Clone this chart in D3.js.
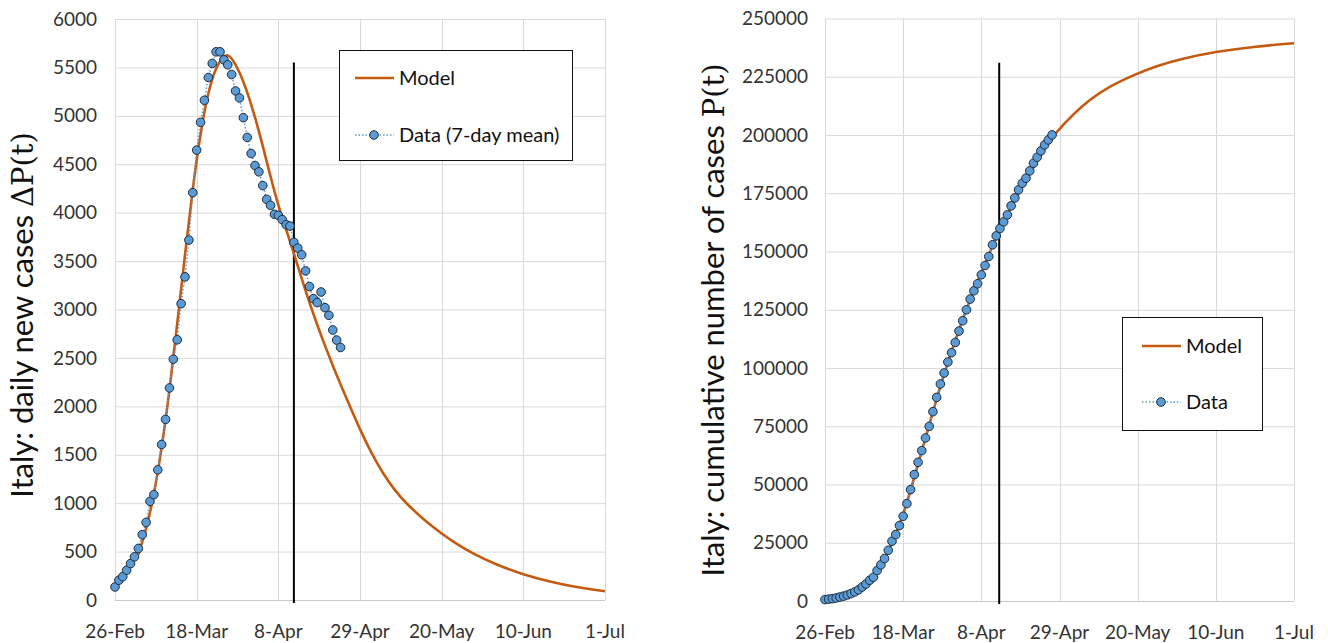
<!DOCTYPE html>
<html>
<head>
<meta charset="utf-8">
<script src="https://cdn.jsdelivr.net/npm/d3@7/dist/d3.min.js"></script>
<style>
  body { margin: 0; background: #fff; }
  svg { display: block; font-family: Lato, "Open Sans", sans-serif; }
</style>
</head>
<body>
<svg id="chart" width="1328" height="643"></svg>
<script>
// dates: day 0 = 26-Feb-2020
var startDate = "2020-02-26";
var tickDates = ["2020-02-26", "2020-03-18", "2020-04-08", "2020-04-29", "2020-05-20", "2020-06-10", "2020-07-01"];

// left chart: daily new cases (7-day mean) and model
var dailyTicks = [0, 500, 1000, 1500, 2000, 2500, 3000, 3500, 4000, 4500, 5000, 5500, 6000];
var dailyData = [135, 204, 241, 308, 376, 446, 532, 674, 801, 1019, 1088, 1344, 1606, 1865, 2190, 2487, 2687, 3060, 3337, 3717,
    4207, 4646, 4933, 5161, 5396, 5541, 5661, 5661, 5578, 5527, 5427, 5257, 5185, 4981, 4777, 4611, 4487, 4422, 4280, 4138,
    4076, 3983, 3972, 3928, 3876, 3862, 3693, 3634, 3565, 3399, 3237, 3112, 3071, 3181, 3019, 2940, 2788, 2684, 2608];
var dailyModelDays = [6, 8, 10, 12, 14, 16, 18, 20, 22, 24, 26, 28, 29, 30, 32, 34, 36, 38, 40, 42, 44, 46, 48, 50, 52, 54, 56, 58,
    60, 63, 66, 69, 72, 75, 80, 84, 88, 92, 98, 105, 112, 118, 126];
var dailyModel = [470, 720, 1080, 1560, 2150, 2850, 3570, 4260, 4830, 5260, 5510, 5620, 5630, 5600, 5460, 5250, 4990, 4690, 4370, 4070,
    3830, 3580, 3320, 3070, 2840, 2625, 2420, 2225, 2040, 1760, 1510, 1300, 1130, 990, 810, 685, 575, 480, 365, 262, 188, 137, 90];
var dailyMarker = { day: 46, top: 5550 };

// right chart: cumulative cases and model
var cumTicks = [0, 25000, 50000, 75000, 100000, 125000, 150000, 175000, 200000, 225000, 250000];
var cumData = [600, 800, 1000, 1300, 1700, 2100, 2600, 3200, 3900, 4800, 6000, 7300, 8900, 10200, 13080, 15520, 18220, 21780, 25640, 28510,
    32370, 36360, 41810, 47810, 54240, 59520, 64530, 69980, 74950, 81260, 87390, 93130, 97850, 102570, 106560, 110970, 115860, 120280, 125000, 129580,
    133140, 136150, 140000, 144000, 147850, 152870, 156730, 159860, 162730, 165730, 169590, 173020, 176450, 179320, 181470, 184600, 187900, 190470, 193180, 195750,
    197890, 200040];
var cumModelDays = [6, 9, 12, 15, 18, 21, 24, 27, 30, 33, 36, 39, 42, 45, 48, 51, 54, 57, 60, 62, 67, 71, 76, 84, 89, 95, 105, 115, 126];
var cumModel = [2900, 5000, 8800, 15000, 24500, 36500, 53000, 70000, 87000, 102500, 116500, 129500, 141000, 152500, 162500, 172000, 180800, 189000, 196800, 201000,
    209400, 215000, 220600, 226500, 229500, 232400, 235800, 237900, 239400];
var cumMarker = { day: 46.8, top: 231000 };

var parseDate = d3.utcParse("%Y-%m-%d");
var fmtTick = d3.utcFormat("%-d-%b");
var t0 = parseDate(startDate);

function dayToDate(d) {
    return new Date(t0.getTime() + d * 864e5);
}

var svg = d3.select("#chart");

function drawChart(opt) {
    var x = d3.scaleUtc()
        .domain([t0, parseDate(tickDates[tickDates.length - 1])])
        .range([opt.left, opt.right]);
    var y = d3.scaleLinear()
        .domain([0, opt.ticks[opt.ticks.length - 1]])
        .range([opt.bottom, opt.top]);

    var g = svg.append("g");

    // gridlines
    g.append("g").selectAll("line")
        .data(opt.ticks.slice(1))
        .enter().append("line")
        .attr("x1", opt.left).attr("x2", opt.right)
        .attr("y1", function (d) { return y(d) + 0.5; })
        .attr("y2", function (d) { return y(d) + 0.5; })
        .attr("stroke", "#d9d9d9");
    g.append("g").selectAll("line")
        .data(tickDates)
        .enter().append("line")
        .attr("x1", function (d) { return Math.round(x(parseDate(d))) + 0.5; })
        .attr("x2", function (d) { return Math.round(x(parseDate(d))) + 0.5; })
        .attr("y1", opt.top).attr("y2", opt.bottom)
        .attr("stroke", "#d9d9d9");
    g.append("line")
        .attr("x1", opt.left).attr("x2", opt.right)
        .attr("y1", opt.bottom + 0.5).attr("y2", opt.bottom + 0.5)
        .attr("stroke", "#c8c8c8");

    // tick labels
    g.append("g").selectAll("text")
        .data(opt.ticks)
        .enter().append("text")
        .attr("x", opt.left - opt.pad)
        .attr("y", function (d) { return y(d); })
        .attr("dy", "0.35em")
        .attr("text-anchor", "end")
        .attr("font-size", 19)
        .attr("fill", "#333")
        .text(function (d) { return d; });
    g.append("g").selectAll("text")
        .data(tickDates)
        .enter().append("text")
        .attr("x", function (d) { return x(parseDate(d)); })
        .attr("y", opt.bottom + 31)
        .attr("dy", "0.35em")
        .attr("text-anchor", "middle")
        .attr("font-size", 19)
        .attr("fill", "#333")
        .text(function (d) { return fmtTick(parseDate(d)); });

    // axis title
    var title = g.append("text")
        .attr("transform", "translate(" + opt.titleX + "," + opt.titleY + ") rotate(-90)")
        .attr("text-anchor", "middle")
        .attr("font-size", 31)
        .attr("fill", "#111")
        .text(opt.title);
    title.append("tspan")
        .attr("font-family", "'DejaVu Serif', 'Liberation Serif', serif")
        .attr("font-size", 29)
        .text(opt.titleMath);

    // vertical marker line
    g.append("line")
        .attr("x1", x(dayToDate(opt.marker.day))).attr("x2", x(dayToDate(opt.marker.day)))
        .attr("y1", y(opt.marker.top)).attr("y2", opt.bottom + 3)
        .attr("stroke", "#000")
        .attr("stroke-width", 2);

    // model
    var model = opt.modelDays.map(function (d, i) { return { date: dayToDate(d), v: opt.model[i] }; });
    var line = d3.line()
        .x(function (d) { return x(d.date); })
        .y(function (d) { return y(d.v); })
        .curve(d3.curveBasis);
    g.append("path")
        .datum(model)
        .attr("fill", "none")
        .attr("stroke", "#c55a11")
        .attr("stroke-width", 2.6)
        .attr("d", line);

    // data
    var data = opt.data.map(function (v, i) { return { date: dayToDate(i), v: v }; });
    g.append("path")
        .datum(data)
        .attr("fill", "none")
        .attr("stroke", "#5b9bd5")
        .attr("stroke-width", 1.5)
        .attr("stroke-dasharray", "1.5,2")
        .attr("d", d3.line().x(function (d) { return x(d.date); }).y(function (d) { return y(d.v); }));
    g.append("g").selectAll("circle")
        .data(data)
        .enter().append("circle")
        .attr("cx", function (d) { return x(d.date); })
        .attr("cy", function (d) { return y(d.v); })
        .attr("r", 4.3)
        .attr("fill", "#5b9bd5")
        .attr("stroke", "#1e2a38")
        .attr("stroke-width", 1);

    // legend
    var lg = g.append("g").attr("transform", "translate(" + opt.legend.x + "," + opt.legend.y + ")");
    lg.append("rect")
        .attr("x", 0.5).attr("y", 0.5)
        .attr("width", opt.legend.w).attr("height", opt.legend.h)
        .attr("fill", "#fff")
        .attr("stroke", "#111");
    lg.append("line")
        .attr("x1", opt.legend.sx).attr("x2", opt.legend.sx + 39)
        .attr("y1", opt.legend.r1).attr("y2", opt.legend.r1)
        .attr("stroke", "#c55a11").attr("stroke-width", 2.6);
    lg.append("line")
        .attr("x1", opt.legend.sx).attr("x2", opt.legend.sx + 39)
        .attr("y1", opt.legend.r2).attr("y2", opt.legend.r2)
        .attr("stroke", "#5b9bd5").attr("stroke-width", 1.5).attr("stroke-dasharray", "1.5,2");
    lg.append("circle")
        .attr("cx", opt.legend.sx + 19).attr("cy", opt.legend.r2)
        .attr("r", 4.3)
        .attr("fill", "#5b9bd5").attr("stroke", "#1e2a38");
    lg.selectAll("text.lab")
        .data(opt.legend.labels)
        .enter().append("text")
        .attr("class", "lab")
        .attr("x", opt.legend.sx + 44)
        .attr("y", function (d, i) { return i == 0 ? opt.legend.r1 : opt.legend.r2; })
        .attr("dy", "0.35em")
        .attr("font-size", 20)
        .attr("fill", "#111")
        .text(function (d) { return d; });
}

drawChart({
    left: 115, right: 605, top: 19, bottom: 600, pad: 18,
    ticks: dailyTicks,
    data: dailyData, modelDays: dailyModelDays, model: dailyModel,
    marker: dailyMarker,
    title: "Italy: daily new cases ", titleMath: "ΔP(t)", titleX: 33, titleY: 315,
    legend: { x: 339, y: 50, w: 233, h: 110, sx: 16, r1: 28, r2: 85, labels: ["Model", "Data (7-day mean)"] }
});

drawChart({
    left: 825, right: 1294, top: 18.5, bottom: 601, pad: 17,
    ticks: cumTicks,
    data: cumData, modelDays: cumModelDays, model: cumModel,
    marker: cumMarker,
    title: "Italy: cumulative number of cases ", titleMath: "P(t)", titleX: 724, titleY: 320,
    legend: { x: 1122, y: 317, w: 140, h: 113, sx: 20, r1: 29, r2: 85, labels: ["Model", "Data"] }
});
</script>
</body>
</html>
